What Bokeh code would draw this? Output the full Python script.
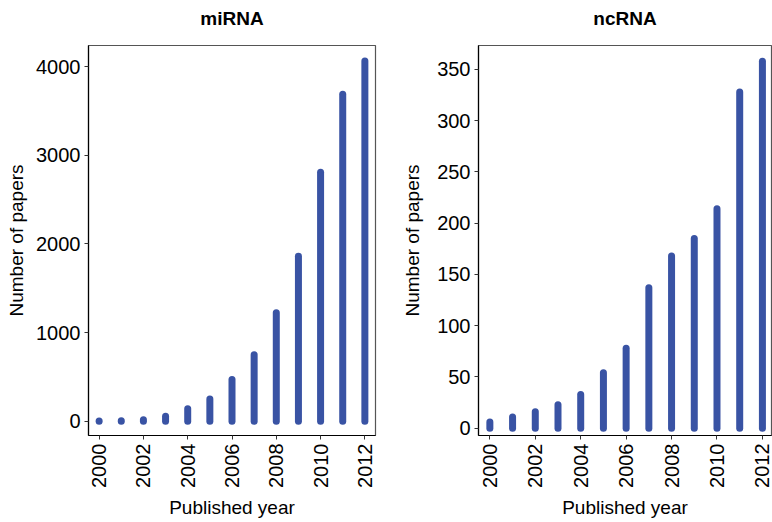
import math
from bokeh.plotting import figure
from bokeh.layouts import row
from bokeh.models import FixedTicker, Range1d, ColumnDataSource, Title
from bokeh.embed import file_html
from bokeh.resources import INLINE

years = [2000, 2001, 2002, 2003, 2004, 2005, 2006, 2007, 2008, 2009, 2010, 2011, 2012]
mirna_papers = [3, 5, 18, 55, 140, 250, 470, 750, 1225, 1860, 2810, 3690, 4065]
ncrna_papers = [6, 11, 16, 23, 33, 54, 78, 137, 168, 185, 214, 328, 358]
year_ticks = [2000, 2002, 2004, 2006, 2008, 2010, 2012]
mirna_ticks = [0, 1000, 2000, 3000, 4000]
ncrna_ticks = [0, 50, 100, 150, 200, 250, 300, 350]

BAR = "#3953A4"
FONT = "Liberation Sans"
FH = 390


def make_panel(title, values, yticks, yrange, xrange, fw, bl, br, ylab_standoff):
    src = ColumnDataSource(dict(x=years, y0=[0] * len(years), y1=values))
    p = figure(title=title, output_backend="svg", toolbar_location=None,
               frame_width=fw, frame_height=FH,
               min_border_left=bl, min_border_right=br,
               min_border_top=45, min_border_bottom=85,
               x_range=Range1d(*xrange), y_range=Range1d(*yrange))
    p.segment(x0="x", y0="y0", x1="x", y1="y1", source=src,
              line_width=7, line_color=BAR, line_cap="round")
    p.title.align = "center"
    p.title.text_font = FONT
    p.title.text_font_size = "19px"
    p.title.text_font_style = "bold"
    p.title.text_color = "black"
    p.add_layout(Title(text=" ", text_font_size="9px", standoff=0), "above")
    p.xgrid.visible = False
    p.ygrid.visible = False
    p.outline_line_color = "#555555"
    p.outline_line_width = 1.2
    p.background_fill_color = "white"
    p.border_fill_color = "white"

    p.xaxis.ticker = FixedTicker(ticks=year_ticks)
    p.yaxis.ticker = FixedTicker(ticks=yticks)
    p.xaxis.major_label_orientation = math.pi / 2
    p.xaxis.axis_label = "Published year"
    p.yaxis.axis_label = "Number of papers"
    for ax in (p.xaxis, p.yaxis):
        ax.axis_line_color = "black"
        ax.axis_line_width = 1.2
        ax.major_tick_line_color = "#333333"
        ax.major_tick_in = 0
        ax.major_tick_out = 4
        ax.minor_tick_line_color = None
        ax.major_label_text_font = FONT
        ax.major_label_text_font_size = "20px"
        ax.major_label_text_color = "black"
        ax.major_label_standoff = 4
        ax.axis_label_text_font = FONT
        ax.axis_label_text_font_size = "19px"
        ax.axis_label_text_font_style = "normal"
        ax.axis_label_text_color = "black"
    p.xaxis.axis_label_standoff = 6
    p.yaxis.axis_label_standoff = ylab_standoff
    return p


p1 = make_panel("miRNA", mirna_papers, mirna_ticks, (-161, 4239), (1999.52, 2012.48), 287, 88, 23, 6)
p2 = make_panel("ncRNA", ncrna_papers, ncrna_ticks, (-7.1, 373.3), (1999.5, 2012.4), 293, 80, 1, 11)

layout = row(p1, p2)
open("out.html", "w").write(file_html(layout, INLINE))
